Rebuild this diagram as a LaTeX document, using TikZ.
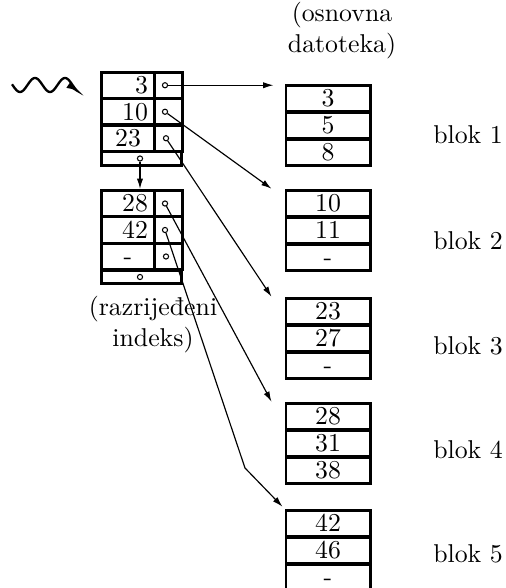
\documentclass[tikz,border=0pt]{standalone}
\usetikzlibrary{calc,arrows.meta}

\begin{document}
\begin{tikzpicture}[x=0.388pt, y=-0.388pt,
            cell/.style={draw, rectangle, line width=1.15pt, minimum width=32.6pt, minimum height=10.3pt, inner sep=0pt, execute at begin node=\vphantom{0}},
            key/.style={draw, rectangle, line width=1.15pt, minimum height=10.1pt, text width=15.5pt, inner xsep=2.7pt, inner ysep=0pt, align=right, execute at begin node=\vphantom{0}},
            ptr/.style={draw, rectangle, line width=1.15pt, minimum width=10.5pt, minimum height=10.1pt, inner sep=0pt},
            nxt/.style={draw, rectangle, line width=1.15pt, minimum width=31.4pt, minimum height=5.4pt, inner sep=0pt},
            dot/.style={draw, circle, inner sep=0pt, minimum size=2pt},
            link/.style={-{Latex[length=4pt, width=2.4pt]}, line width=0.45pt}]
            \useasboundingbox (0,0) rectangle (505,588);
            % wavy arrow
            \draw[-{Latex[length=4.5pt, width=3pt]}, line width=0.9pt, domain=12:78, samples=60, smooth, variable=\t] plot (\t, {85-7*cos(12*(\t-35))});
            % index, first block
            \node[key] (i3) at (128,85.25) {3};
            \node[ptr] (p3) at (168.5,85.25) {};
            \node[key] (i10) at (128,111.75) {10};
            \node[ptr] (p10) at (168.5,111.75) {};
            \node[key, align=center] (i23) at (128,138.25) {23};
            \node[ptr] (p23) at (168.5,138.25) {};
            \node[nxt] (n1) at (141.5,158.5) {};
            \node[dot] (d3) at (165,85.25) {};
            \node[dot] (d10) at (165,111.75) {};
            \node[dot] (d23) at (166,138.25) {};
            \node[dot] (dn1) at (140,158.5) {};
            % index, second block
            \node[key] (i28) at (128,203.5) {28};
            \node[ptr] (p28) at (168.5,203.5) {};
            \node[key] (i42) at (128,230) {42};
            \node[ptr] (p42) at (168.5,230) {};
            \node[key, align=center] (ix) at (128,256.5) {-};
            \node[ptr] (px) at (168.5,256.5) {};
            \node[nxt] (n2) at (141.5,277) {};
            \node[dot] (d28) at (165,203.5) {};
            \node[dot] (d42) at (165,230) {};
            \node[dot] (dx) at (166,256.5) {};
            \node[dot] (dn2) at (140,277) {};
            \node[align=center] (razr) at (153,325) {(razrijeđeni\\indeks)};
            % main file
            \node[align=center] (osn) at (342,31) {(osnovna\\datoteka)};
            \foreach \top/\a/\b/\c/\n/\ly in {85/3/5/8/1/135, 190/10/11/-/2/241, 298/23/27/-/3/346, 403/28/31/38/4/450, 510/42/46/-/5/554} {
                \node[cell] (b\n-1) at (328,\top+13.5) {\a};
                \node[cell] (b\n-2) at (328,\top+40.5) {\b};
                \node[cell] (b\n-3) at (328,\top+67.5) {\c};
                \node (l\n) at (468,\ly) {blok \n};
            }
            % pointers
            \draw[link] (d3) -- ($(d3 -| b1-1.west)+(-11,0)$);
            \draw[link] (d10) -- ($(b2-1.north west)+(-13,0)$);
            \draw[link] (d23) -- ($(b3-1.north west)+(-13,0)$);
            \draw[link] (dn1) -- (dn1 |- i28.north);
            \draw[link] (d28) -- ($(b4-1.north west)+(-13,0)$);
            \coordinate (bend) at (245,468);
            \draw[link] (d42) -- (bend) -- ($(b5-1.north west)+(-2,-2)$);
        \end{tikzpicture}
\end{document}
